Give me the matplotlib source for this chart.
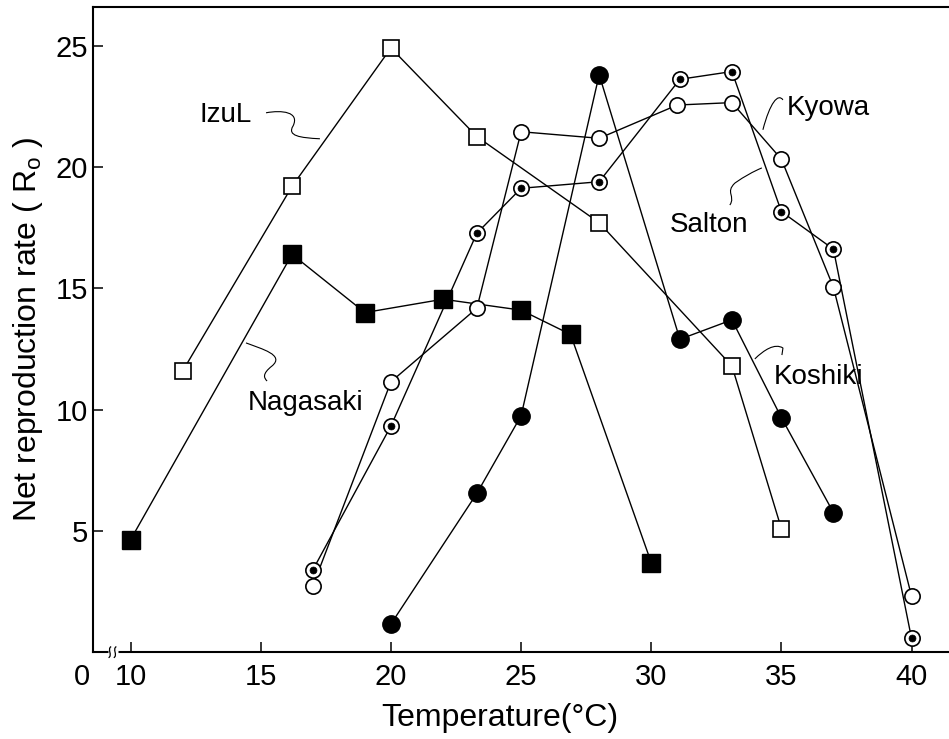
import matplotlib
matplotlib.use("Agg")
import matplotlib.pyplot as plt
from matplotlib.path import Path
from matplotlib.patches import PathPatch

plt.rcParams['font.family'] = ['Liberation Sans', 'DejaVu Sans']
plt.rcParams['mathtext.fontset'] = 'custom'
plt.rcParams['mathtext.rm'] = 'Liberation Sans'

# Net reproduction rate (Ro) of five strains against rearing temperature (deg C)
izul_t = [12, 16.2, 20, 23.3, 28, 33.1, 35]
izul_r = [11.6, 19.2, 24.9, 21.25, 17.7, 11.8, 5.1]

nagasaki_t = [10, 16.2, 19, 22, 25, 26.9, 30]
nagasaki_r = [4.65, 16.4, 14.0, 14.55, 14.1, 13.1, 3.7]

koshiki_t = [20, 23.3, 25, 28, 31.1, 33.1, 35, 37]
koshiki_r = [1.17, 6.55, 9.75, 23.8, 12.9, 13.7, 9.67, 5.76]

salton_t = [17, 20, 23.3, 25, 28, 31, 33.1, 35, 37, 40]
salton_r = [2.74, 11.15, 14.18, 21.45, 21.18, 22.55, 22.65, 20.32, 15.04, 2.32]

kyowa_t = [17, 20, 23.3, 25, 28, 31.1, 33.1, 35, 37, 40]
kyowa_r = [3.40, 9.33, 17.27, 19.12, 19.39, 23.61, 23.93, 18.16, 16.61, 0.58]

x_ticks = [10, 15, 20, 25, 30, 35, 40]
y_ticks = [5, 10, 15, 20, 25]

fig = plt.figure(figsize=(9.49, 7.39), dpi=100)
ax = fig.add_axes([0.0983, 0.1172, 0.9017, 0.8737])
ax.set_xlim(8.563, 41.44)
ax.set_ylim(0, 26.6)

for side in ('left', 'bottom', 'top'):
    ax.spines[side].set_linewidth(1.5)
ax.spines['right'].set_visible(False)

ax.set_xticks(x_ticks)
ax.set_xticklabels([str(v) for v in x_ticks])
ax.set_yticks(y_ticks)
ax.set_yticklabels([str(v) for v in y_ticks])
ax.tick_params(direction='in', length=7.2, width=1.1, labelsize=21, colors='k')
ax.tick_params(axis='x', pad=7.6)
ax.tick_params(axis='y', pad=3.6)

# origin label at the broken end of the temperature axis
ax.annotate('0', xy=(8.13, 0), xycoords=('data', 'axes fraction'),
            xytext=(0, -7.6), textcoords='offset points',
            ha='center', va='top', fontsize=21, annotation_clip=False)

# axis break marks
ax.plot([9.12, 9.50], [0, 0], color='white', lw=2.5, zorder=5, clip_on=False,
        solid_capstyle='butt')
for bx in (9.20, 9.40):
    brk = Path([(bx - 0.05, -0.22), (bx + 0.12, -0.12), (bx - 0.12, 0.14), (bx + 0.05, 0.24)],
               [Path.MOVETO, Path.CURVE4, Path.CURVE4, Path.CURVE4])
    ax.add_patch(PathPatch(brk, fill=False, lw=0.9, color='k', zorder=6, clip_on=False))

# connecting lines
for t, r in ((izul_t, izul_r), (nagasaki_t, nagasaki_r), (koshiki_t, koshiki_r),
             (salton_t, salton_r), (kyowa_t, kyowa_r)):
    ax.plot(t, r, color='k', lw=1.0, zorder=3)

# symbols
ax.plot(izul_t, izul_r, ls='none', marker='s', ms=11, mfc='white', mec='k', mew=1.2, zorder=4)
ax.plot(nagasaki_t, nagasaki_r, ls='none', marker='s', ms=12.5, mfc='k', mec='k', mew=1.0, zorder=4)
ax.plot(koshiki_t, koshiki_r, ls='none', marker='o', ms=12.5, mfc='k', mec='k', mew=1.0, zorder=4)
ax.plot(salton_t, salton_r, ls='none', marker='o', ms=11, mfc='white', mec='k', mew=1.2, zorder=4)
ax.plot(kyowa_t, kyowa_r, ls='none', marker='o', ms=11, mfc='white', mec='k', mew=1.2, zorder=4)
ax.plot(kyowa_t, kyowa_r, ls='none', marker='o', ms=5, mfc='k', mec='k', mew=0.5, zorder=5)


def leader(pts):
    codes = [Path.MOVETO] + [Path.CURVE4] * (len(pts) - 1)
    ax.add_patch(PathPatch(Path(pts, codes), fill=False, lw=0.8, color='k', zorder=3))


label_kw = dict(fontsize=20, ha='left', va='baseline')
ax.text(12.65, 21.87, 'IzuL', **label_kw)
leader([(15.20, 22.23), (15.81, 22.35), (16.50, 22.27), (16.24, 21.69),
        (16.00, 21.28), (16.50, 21.20), (17.27, 21.16)])

ax.text(35.20, 22.14, 'Kyowa', **label_kw)
leader([(35.06, 22.76), (34.87, 23.05), (34.56, 22.64), (34.29, 21.53)])

ax.text(30.72, 17.31, 'Salton', **label_kw)
leader([(33.02, 18.43), (33.25, 18.80), (32.83, 18.95), (33.22, 19.34),
        (33.60, 19.62), (33.90, 19.80), (34.25, 19.96)])

ax.text(34.69, 11.05, 'Koshiki', **label_kw)
leader([(33.98, 12.09), (34.33, 12.46), (34.75, 12.75), (35.06, 12.54),
        (35.05, 12.44), (35.03, 12.34), (35.02, 12.25)])

ax.text(14.51, 9.99, 'Nagasaki', **label_kw)
leader([(14.43, 12.75), (15.04, 12.50), (15.93, 12.25), (15.43, 11.80),
        (15.04, 11.47), (15.12, 11.31), (15.24, 11.18)])

fig.text(0.527, 0.0176, 'Temperature(°C)', fontsize=23, ha='center', va='baseline')
fig.text(0.0295, 0.5548, r'Net reproduction rate ( R$_{\mathregular{o}}$ )', fontsize=23,
         rotation=90, ha='center', va='center')

fig.savefig('out.png', dpi=100)
